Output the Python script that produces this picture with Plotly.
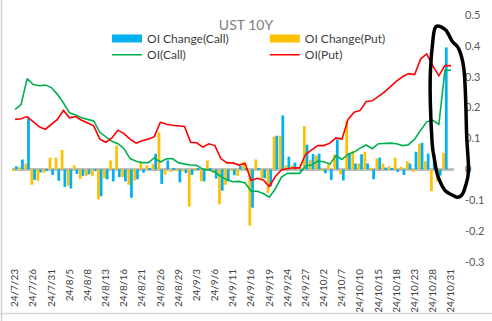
import plotly.graph_objects as go

# Trading days (yy/m/d)
dates = [
    "24/7/23", "24/7/24", "24/7/25", "24/7/26", "24/7/29", "24/7/30", "24/7/31",
    "24/8/1", "24/8/2", "24/8/5", "24/8/6", "24/8/7", "24/8/8", "24/8/9",
    "24/8/12", "24/8/13", "24/8/14", "24/8/15", "24/8/16", "24/8/19", "24/8/20",
    "24/8/21", "24/8/22", "24/8/23", "24/8/26", "24/8/27", "24/8/28", "24/8/29",
    "24/8/30", "24/9/2", "24/9/3", "24/9/4", "24/9/5", "24/9/6", "24/9/9",
    "24/9/10", "24/9/11", "24/9/12", "24/9/13", "24/9/16", "24/9/17", "24/9/18",
    "24/9/19", "24/9/20", "24/9/23", "24/9/24", "24/9/25", "24/9/26", "24/9/27",
    "24/9/30", "24/10/1", "24/10/2", "24/10/3", "24/10/4", "24/10/7", "24/10/8",
    "24/10/9", "24/10/10", "24/10/11", "24/10/14", "24/10/15", "24/10/16", "24/10/17",
    "24/10/18", "24/10/21", "24/10/22", "24/10/23", "24/10/24", "24/10/25", "24/10/28",
    "24/10/29", "24/10/30", "24/10/31",
]

tick_labels = [
    "24/7/23", "24/7/26", "24/7/31", "24/8/5", "24/8/8", "24/8/13", "24/8/16",
    "24/8/21", "24/8/26", "24/8/29", "24/9/3", "24/9/6", "24/9/11", "24/9/16",
    "24/9/19", "24/9/24", "24/9/27", "24/10/2", "24/10/7", "24/10/10", "24/10/15",
    "24/10/18", "24/10/23", "24/10/28", "24/10/31",
]

oi_change_call = [
    0.010, 0.032, 0.167, -0.034, -0.010, -0.003, -0.018, -0.037, -0.057, -0.062,
    -0.015, -0.021, -0.016, -0.004, -0.087, -0.032, -0.039, -0.025, -0.039, -0.092,
    -0.032, -0.011, 0.003, 0.051, -0.047, 0.029, 0.002, -0.042, -0.012, -0.018,
    0.002, -0.039, 0.003, -0.030, -0.069, -0.039, -0.019, 0.011, 0.004, -0.124,
    0.003, -0.029, -0.055, 0.109, 0.175, 0.041, 0.022, -0.007, 0.080, 0.050,
    0.051, -0.013, -0.034, 0.097, -0.036, 0.051, 0.019, 0.049, 0.019, -0.032,
    0.038, 0.006, 0.002, -0.008, -0.018, 0.019, 0.057, 0.086, 0.051, 0.030,
    -0.020, 0.395, None,
]

oi_change_put = [
    -0.005, 0.007, 0.019, -0.050, -0.037, -0.011, 0.038, 0.038, 0.063, -0.053,
    0.013, -0.031, -0.021, -0.021, -0.097, -0.029, 0.029, 0.077, -0.025, -0.050,
    -0.036, 0.021, 0.013, 0.017, 0.120, -0.018, -0.008, -0.005, -0.007, -0.121,
    0.002, -0.039, 0.029, -0.012, -0.113, -0.050, -0.004, -0.021, 0.025, -0.182,
    0.032, -0.029, -0.076, 0.106, 0.109, 0.013, 0.013, 0.002, 0.140, 0.030,
    0.045, -0.005, 0.016, 0.048, -0.016, 0.157, 0.060, 0.019, 0.057, 0.002,
    0.035, 0.019, 0.010, 0.038, 0.008, 0.026, -0.008, 0.083, 0.026, -0.071,
    -0.039, 0.054, None,
]

oi_call = [
    0.194, 0.210, 0.294, 0.275, 0.271, 0.273, 0.265, 0.243, 0.215, 0.183,
    0.176, 0.167, 0.162, 0.157, 0.120, 0.106, 0.091, 0.083, 0.067, 0.035,
    0.026, 0.022, 0.022, 0.037, 0.024, 0.034, 0.035, 0.021, 0.017, 0.014,
    0.013, 0.001, -0.002, -0.008, -0.023, -0.034, -0.040, -0.039, -0.044, -0.071,
    -0.071, -0.078, -0.090, -0.063, -0.025, -0.013, -0.013, -0.013, 0.011, 0.014,
    0.027, 0.025, 0.017, 0.045, 0.032, 0.049, 0.056, 0.069, 0.079, 0.067,
    0.083, 0.085, 0.085, 0.083, 0.077, 0.080, 0.098, 0.127, 0.154, 0.159,
    0.146, 0.321, 0.321,
]

oi_put = [
    0.162, 0.164, 0.171, 0.155, 0.138, 0.130, 0.146, 0.162, 0.191, 0.167,
    0.171, 0.159, 0.150, 0.141, 0.098, 0.088, 0.102, 0.127, 0.116, 0.098,
    0.085, 0.093, 0.098, 0.106, 0.153, 0.146, 0.143, 0.141, 0.139, 0.088,
    0.086, 0.072, 0.083, 0.077, 0.035, 0.021, 0.021, 0.014, 0.019, -0.036,
    -0.029, -0.034, -0.055, -0.023, -0.002, 0.002, 0.005, 0.005, 0.049, 0.063,
    0.077, 0.077, 0.085, 0.102, 0.098, 0.162, 0.185, 0.191, 0.220, 0.222,
    0.236, 0.250, 0.268, 0.286, 0.300, 0.310, 0.307, 0.358, 0.374, 0.335,
    0.303, 0.336, 0.336,
]

y_tick_vals = [0.5, 0.4, 0.3, 0.2, 0.1, 0.0, -0.1, -0.2, -0.3]
y_tick_text = ["0.5", "0.4", "0.3", "0.2", "0.1", "0", "-0.1", "-0.2", "-0.3"]

BLUE = "#00B0F0"
ORANGE = "#FFC000"
GREEN = "#00B050"
RED = "#FF0000"
FONT = "Lato"

fig = go.Figure()

# Bars: put drawn left, call right within each day
fig.add_trace(go.Bar(x=dates, y=oi_change_put, marker_color=ORANGE,
                     marker_line_width=0, name="OI Change(Put)",
                     legendgroup="put_chg", showlegend=False))
fig.add_trace(go.Bar(x=dates, y=oi_change_call, marker_color=BLUE,
                     marker_line_width=0, name="OI Change(Call)",
                     legendgroup="call_chg", showlegend=False))

fig.add_trace(go.Scatter(x=dates, y=oi_call, mode="lines", name="OI(Call)",
                         line=dict(color=GREEN, width=1.6), legend="legend3"))
fig.add_trace(go.Scatter(x=dates, y=oi_put, mode="lines", name="OI(Put)",
                         line=dict(color=RED, width=1.6), legend="legend4"))

# Wide flat legend keys for the bar series
fig.add_trace(go.Scatter(x=[dates[0]], y=[None], mode="lines", name="OI Change(Call)",
                         line=dict(color=BLUE, width=8), legendgroup="call_chg",
                         legend="legend", hoverinfo="skip"))
fig.add_trace(go.Scatter(x=[dates[0]], y=[None], mode="lines", name="OI Change(Put)",
                         line=dict(color=ORANGE, width=8), legendgroup="put_chg",
                         legend="legend2", hoverinfo="skip"))

n = len(dates)


def to_paper(cat, val):
    return (cat + 0.5) / n, (val + 0.3) / 0.8


# Hand-drawn ring around the last sessions (category index, value)
ring = [
    (69.5, 0.462), (71.1, 0.452), (72.2, 0.415), (73.3, 0.39), (74.1, 0.33),
    (74.4, 0.24), (74.6, 0.105), (74.9, -0.003), (74.4, -0.054), (73.8, -0.083),
    (73.0, -0.09), (72.2, -0.083), (71.1, -0.07), (70.3, -0.044), (69.7, -0.013),
    (69.2, 0.041), (68.9, 0.083), (68.6, 0.21), (68.6, 0.315), (69.0, 0.415),
]
pts = [to_paper(c, v) for c, v in ring]
m = len(pts)
path = "M{:.5f},{:.5f}".format(*pts[0])
for i in range(m):
    p0, p1, p2, p3 = pts[i - 1], pts[i], pts[(i + 1) % m], pts[(i + 2) % m]
    c1 = (p1[0] + (p2[0] - p0[0]) / 6, p1[1] + (p2[1] - p0[1]) / 6)
    c2 = (p2[0] - (p3[0] - p1[0]) / 6, p2[1] - (p3[1] - p1[1]) / 6)
    path += " C{:.5f},{:.5f} {:.5f},{:.5f} {:.5f},{:.5f}".format(*c1, *c2, *p2)
path += " Z"

shapes = [
    dict(type="path", path=path, xref="paper", yref="paper",
         line=dict(color="black", width=3.5), layer="above"),
    # outer frame edges
    dict(type="line", xref="paper", yref="paper", x0=-0.0237, x1=-0.0237,
         y0=-0.3, y1=1.1, line=dict(color="#D0D0D0", width=1.5)),
    dict(type="line", xref="paper", yref="paper", x0=-0.03, x1=1.1,
         y0=-0.208, y1=-0.208, line=dict(color="#D9D9D9", width=1.5)),
]

legend_common = dict(orientation="h", bgcolor="rgba(0,0,0,0)", borderwidth=0,
                     font=dict(family=FONT, size=12, color="#404040"),
                     xanchor="left", yanchor="middle", itemwidth=30)

fig.update_layout(
    width=492, height=321,
    margin=dict(l=12, r=37, t=8, b=59),
    paper_bgcolor="white", plot_bgcolor="white",
    barmode="group", bargap=0.1, bargroupgap=0.0,
    title=dict(text="UST 10Y", x=0.5, xref="container", xanchor="center",
               y=1 - 25 / 321, yref="container", yanchor="middle",
               font=dict(family=FONT, size=14, color="#808080")),
    font=dict(family=FONT),
    legend=dict(x=0.215, y=0.905, **legend_common),
    legend2=dict(x=0.572, y=0.905, **legend_common),
    legend3=dict(x=0.215, y=0.839, **legend_common),
    legend4=dict(x=0.572, y=0.839, **legend_common),
    xaxis=dict(type="category", categoryorder="array", categoryarray=dates,
               range=[-0.5, n - 0.5], tickmode="array", tickvals=tick_labels,
               ticktext=tick_labels, tickangle=-90, showgrid=False,
               showline=False, zeroline=False, ticks="", ticklabelstandoff=4,
               tickfont=dict(family=FONT, size=10, color="#404040")),
    yaxis=dict(side="right", range=[-0.3, 0.5], tickmode="array",
               tickvals=y_tick_vals, ticktext=y_tick_text, showgrid=False,
               showline=False, ticks="", ticklabelstandoff=10,
               zeroline=True, zerolinecolor="#BFBFBF", zerolinewidth=2.5,
               tickfont=dict(family=FONT, size=11, color="#595959")),
    shapes=shapes,
    showlegend=True,
)

fig.write_html("out.html")
